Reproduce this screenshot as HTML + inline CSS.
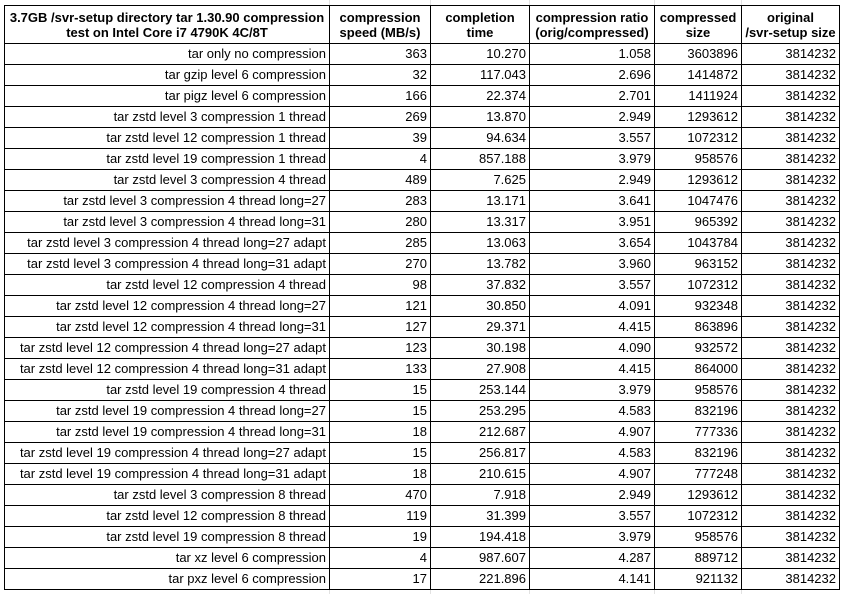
<!DOCTYPE html>
<html><head><meta charset="utf-8">
<style>
html,body{margin:0;padding:0;background:#fff;width:845px;height:594px;overflow:hidden;}
body{position:relative;font-family:"Liberation Sans",Arial,sans-serif;font-size:13px;color:#000;}
.grid{position:absolute;background:#e2e2e2;}
table{position:absolute;left:4px;top:5px;border-collapse:collapse;table-layout:fixed;background:#fff;}
td,th{border:1px solid #000;padding:0 3px;white-space:nowrap;overflow:hidden;}
th{font-weight:bold;text-align:center;height:37px;line-height:15px;}
td{text-align:right;height:20px;line-height:20px;}
</style></head>
<body>
<div class="grid" style="left:329px;top:0;width:1px;height:594px"></div>
<div class="grid" style="left:430px;top:0;width:1px;height:594px"></div>
<div class="grid" style="left:529px;top:0;width:1px;height:594px"></div>
<div class="grid" style="left:654px;top:0;width:1px;height:594px"></div>
<div class="grid" style="left:741px;top:0;width:1px;height:594px"></div>
<table id="t">
<colgroup><col style="width:325px"><col style="width:101px"><col style="width:99px"><col style="width:125px"><col style="width:87px"><col style="width:98px"></colgroup>
<thead><tr>
<th>3.7GB /svr-setup directory tar 1.30.90 compression<br>test on Intel Core i7 4790K 4C/8T</th>
<th>compression<br>speed (MB/s)</th>
<th>completion<br>time</th>
<th>compression ratio<br>(orig/compressed)</th>
<th>compressed<br>size</th>
<th>original<br>/svr-setup size</th>
</tr></thead>
<tbody id="tb"></tbody>
</table>
<script>
const labels=["tar only no compression","tar gzip level 6 compression","tar pigz level 6 compression","tar zstd level 3 compression 1 thread","tar zstd level 12 compression 1 thread","tar zstd level 19 compression 1 thread","tar zstd level 3 compression 4 thread","tar zstd level 3 compression 4 thread long=27","tar zstd level 3 compression 4 thread long=31","tar zstd level 3 compression 4 thread long=27 adapt","tar zstd level 3 compression 4 thread long=31 adapt","tar zstd level 12 compression 4 thread","tar zstd level 12 compression 4 thread long=27","tar zstd level 12 compression 4 thread long=31","tar zstd level 12 compression 4 thread long=27 adapt","tar zstd level 12 compression 4 thread long=31 adapt","tar zstd level 19 compression 4 thread","tar zstd level 19 compression 4 thread long=27","tar zstd level 19 compression 4 thread long=31","tar zstd level 19 compression 4 thread long=27 adapt","tar zstd level 19 compression 4 thread long=31 adapt","tar zstd level 3 compression 8 thread","tar zstd level 12 compression 8 thread","tar zstd level 19 compression 8 thread","tar xz level 6 compression","tar pxz level 6 compression"];
const speeds=[363,32,166,269,39,4,489,283,280,285,270,98,121,127,123,133,15,15,18,15,18,470,119,19,4,17];
const times=["10.270","117.043","22.374","13.870","94.634","857.188","7.625","13.171","13.317","13.063","13.782","37.832","30.850","29.371","30.198","27.908","253.144","253.295","212.687","256.817","210.615","7.918","31.399","194.418","987.607","221.896"];
const ratios=["1.058","2.696","2.701","2.949","3.557","3.979","2.949","3.641","3.951","3.654","3.960","3.557","4.091","4.415","4.090","4.415","3.979","4.583","4.907","4.583","4.907","2.949","3.557","3.979","4.287","4.141"];
const sizes=[3603896,1414872,1411924,1293612,1072312,958576,1293612,1047476,965392,1043784,963152,1072312,932348,863896,932572,864000,958576,832196,777336,832196,777248,1293612,1072312,958576,889712,921132];
const originals=new Array(26).fill(3814232);
const tb=document.getElementById('tb');
const cellNames=['test-name','speed','time','ratio','compressed-size','original-size'];
labels.forEach((l,i)=>{
  const tr=document.createElement('tr');
  
  
  [l,speeds[i],times[i],ratios[i],sizes[i],originals[i]].forEach((v,j)=>{
    const td=document.createElement('td');
    td.textContent=v;
    
    
    tr.appendChild(td);
  });
  tb.appendChild(tr);
});
</script>
</body></html>
